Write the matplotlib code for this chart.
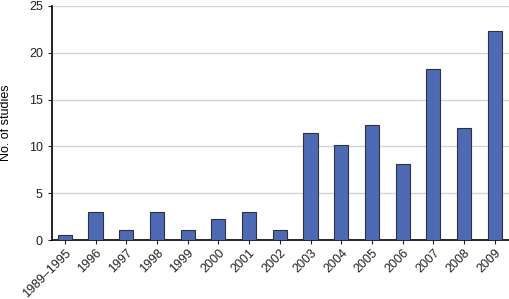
import matplotlib
matplotlib.use("Agg")
import matplotlib.pyplot as plt

years = ["1989\u20131995", "1996", "1997", "1998", "1999", "2000", "2001", "2002",
         "2003", "2004", "2005", "2006", "2007", "2008", "2009"]
studies = [0.5, 3.0, 1.1, 3.0, 1.1, 2.2, 3.0, 1.1,
           11.4, 10.2, 12.3, 8.1, 18.3, 12.0, 22.3]

plt.rcParams["font.family"] = ["Liberation Sans", "DejaVu Sans"]

BAR = "#4f6ab4"
EDGE = "#2b3340"

fig = plt.figure(figsize=(5.09, 2.99), dpi=100)
ax = fig.add_axes([0.102, 0.197, 0.898, 0.783])

x = range(len(years))
ax.bar(x, studies, width=0.46, color=BAR, edgecolor=EDGE, linewidth=0.8, zorder=3)

ax.set_ylim(0, 25)
ax.set_yticks([0, 5, 10, 15, 20, 25])
ax.set_xlim(-0.42, len(years) - 1 + 0.46)
ax.set_xticks(list(x))
ax.set_xticklabels(years, rotation=45, ha="right", rotation_mode="anchor")
ax.grid(axis="y", color="#d4d4d4", lw=1.0, zorder=0)

for s in ["top", "right"]:
    ax.spines[s].set_visible(False)
ax.spines["left"].set_linewidth(1.2)
ax.spines["bottom"].set_linewidth(1.2)
ax.tick_params(axis="both", labelsize=9, length=3, width=0.8, colors="#222222")
ax.tick_params(axis="x", pad=2)
ax.set_ylabel("No. of studies", fontsize=9, labelpad=12)

fig.savefig("out.png", dpi=100)
